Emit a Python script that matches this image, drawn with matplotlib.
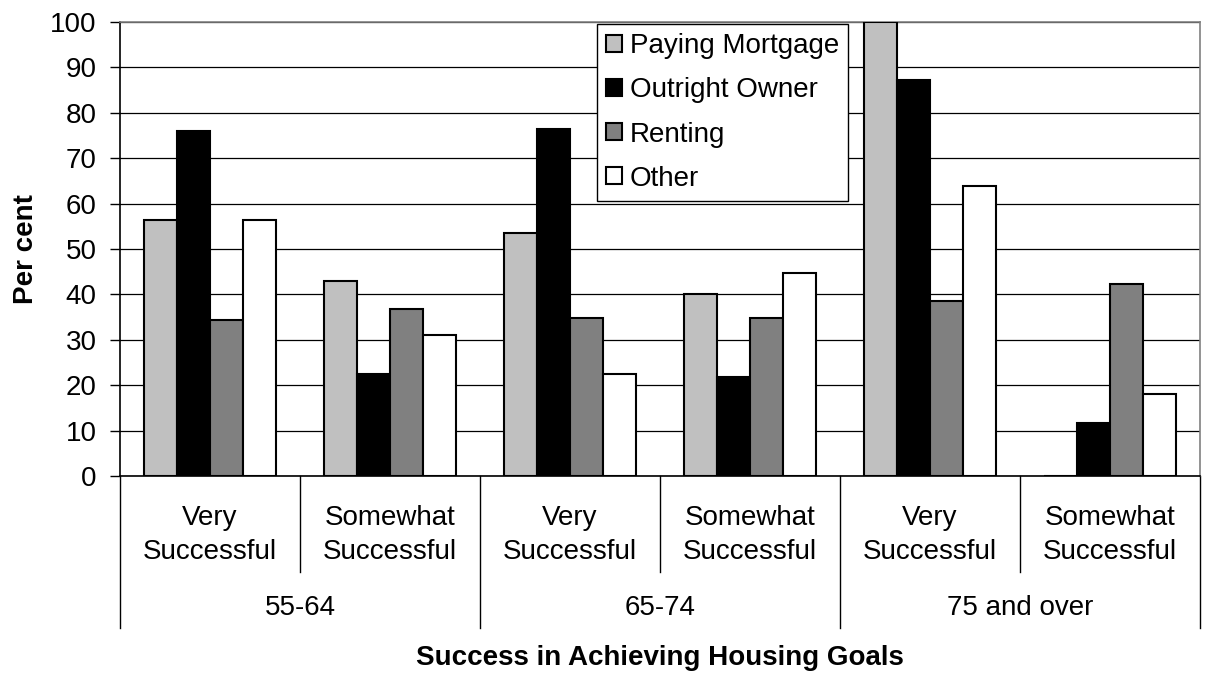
import matplotlib
matplotlib.use("Agg")
import matplotlib.pyplot as plt
import numpy as np
from matplotlib.transforms import blended_transform_factory

plt.rcParams['font.family'] = ['Liberation Sans', 'DejaVu Sans']

age_groups = ["55-64", "65-74", "75 and over"]
success_levels = ["Very\nSuccessful", "Somewhat\nSuccessful"]
series_names = ["Paying Mortgage", "Outright Owner", "Renting", "Other"]
paying_mortgage = [56.3, 42.9, 53.6, 40.0, 100.0, 0.0]
outright_owner = [76.1, 22.4, 76.4, 21.9, 87.2, 11.7]
renting = [34.4, 36.8, 34.9, 34.9, 38.6, 42.3]
other = [56.3, 31.1, 22.4, 44.7, 63.8, 18.1]
y_ticks = [0, 10, 20, 30, 40, 50, 60, 70, 80, 90, 100]

series = [paying_mortgage, outright_owner, renting, other]
colors = ["#C0C0C0", "#000000", "#808080", "#FFFFFF"]

FS = 20
fig = plt.figure(figsize=(12.05, 6.75), dpi=100)
ax = fig.add_axes([0.0996, 0.2948, 0.8963, 0.6726])

n_cat = len(age_groups) * len(success_levels)
x = np.arange(n_cat)
bw = 0.183
for i, (vals, c, name) in enumerate(zip(series, colors, series_names)):
    ax.bar(x + (i - 1.5) * bw, vals, width=bw, color=c, edgecolor="black",
           linewidth=1.5, label=name, zorder=3)

ax.set_xlim(-0.5, n_cat - 0.5)
ax.set_ylim(0, 100)
ax.set_yticks(y_ticks)
ax.set_yticklabels([str(t) for t in y_ticks], fontsize=FS)
ax.tick_params(axis='y', length=7, width=1, color='black', direction='out', pad=10)
ax.tick_params(axis='x', length=0, labelbottom=False)
ax.yaxis.grid(True, color='black', linewidth=0.9, zorder=0)
ax.set_axisbelow(True)
for s in ['top', 'right']:
    ax.spines[s].set_color('#808080')
    ax.spines[s].set_linewidth(1.2)
ax.spines['left'].set_color('black')
ax.spines['left'].set_linewidth(1.2)
ax.spines['bottom'].set_color('black')
ax.spines['bottom'].set_linewidth(1.2)

ax.set_ylabel("Per cent", fontsize=FS, fontweight='bold', labelpad=8)

tr = blended_transform_factory(ax.transData, ax.transAxes)
inner_bottom = -0.211
outer_bottom = -0.335
for k in range(n_cat + 1):
    xb = k - 0.5
    if k % 2 == 0:
        ax.plot([xb, xb], [0, outer_bottom], transform=tr, color='black',
                linewidth=1.0, clip_on=False)
    else:
        ax.plot([xb, xb], [0, inner_bottom], transform=tr, color='black',
                linewidth=1.0, clip_on=False)
for k in range(n_cat):
    ax.text(k, -0.130, success_levels[k % 2], transform=tr, ha='center',
            va='center', fontsize=FS, linespacing=1.38)
for g, name in enumerate(age_groups):
    ax.text(2 * g + 0.5, -0.291, name, transform=tr, ha='center',
            va='center', fontsize=FS)

fig.text(0.5 * (0.0996 + 0.9959), 1 - 658 / 675, "Success in Achieving Housing Goals",
         ha='center', va='center', fontsize=FS, fontweight='bold')

leg = ax.legend(loc='upper left', bbox_to_anchor=(0.4417, 0.995), fontsize=FS,
                frameon=True, fancybox=False, edgecolor='black', framealpha=1,
                handlelength=0.55, handleheight=0.55, handletextpad=0.3,
                labelspacing=0.65, borderpad=0.33, borderaxespad=0)
leg.get_frame().set_linewidth(1.0)
leg.set_zorder(5)

fig.savefig("out.png", dpi=100)
